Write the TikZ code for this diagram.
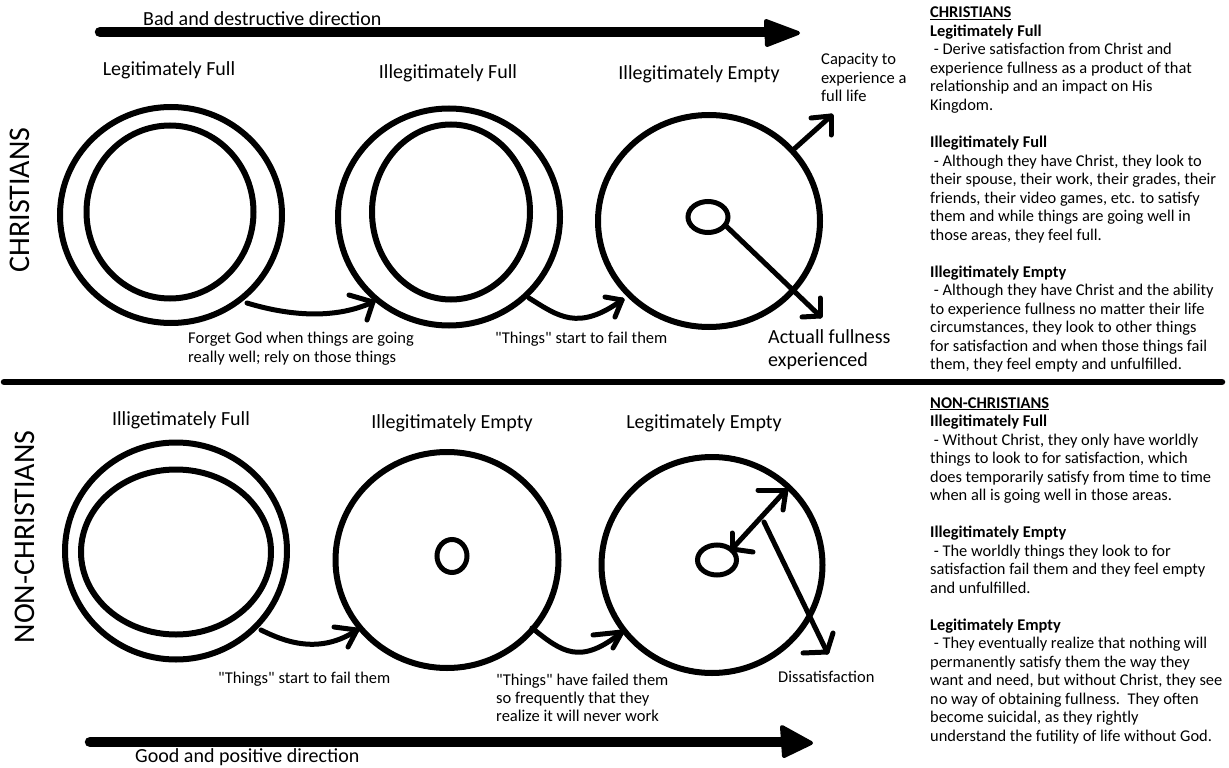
\documentclass[tikz,border=0pt]{standalone}
\usepackage{fontspec}
\setmainfont{Carlito}[Ligatures=TeXOff]
\usetikzlibrary{shapes.geometric}
\begin{document}
\begin{tikzpicture}[x=1pt,y=-1pt,
  ring/.style={draw, ellipse, line width=6pt, inner sep=0pt, outer sep=0pt},
  dot/.style={draw, ellipse, line width=5pt, inner sep=0pt, outer sep=0pt},
  shaft/.style={line width=5pt, line cap=round, line join=round},
  bigshaft/.style={line width=10.5pt, line cap=round},
  bighead/.style={fill=black, draw=black, line width=4pt, line join=round},
  title/.style={font=\fontsize{20}{24}\selectfont, anchor=base, inner sep=0pt},
  lbl/.style={font=\fontsize{16.5}{19}\selectfont, anchor=base west, inner sep=0pt},
  biglbl/.style={font=\fontsize{20}{24}\selectfont, anchor=base west, inner sep=0pt},
  rt/.style={font=\fontsize{16.4}{18.5}\selectfont, anchor=base west, inner sep=0pt},
  side/.style={font=\fontsize{30}{36}\selectfont, rotate=90, inner sep=0pt}]
\useasboundingbox (0,0) rectangle (1229,768);
\fill[white] (0,0) rectangle (1229,768);

% ---------- direction arrows ----------
\node[title, anchor=base west] (bad) at (143,26) {Bad and destructive direction};
\coordinate (ta0) at (100,32);
\coordinate (ta1) at (778,32);
\draw[bigshaft] (ta0) -- (ta1);
\filldraw[bighead] (798,33) -- (766,21) -- (767,45) -- cycle;

\node[title, anchor=base west] (good) at (135,762) {Good and positive direction};
\coordinate (ba0) at (90,742);
\coordinate (ba1) at (790,742);
\draw[bigshaft] (ba0) -- (ba1);
\filldraw[bighead] (811,743) -- (782,727) -- (784,756) -- cycle;

% ---------- divider ----------
\coordinate (dv0) at (4,382);
\coordinate (dv1) at (1222,382);
\draw[line width=6.5pt, line cap=round] (dv0) -- (dv1);

% ---------- side labels ----------
\node[side] (chr) at (20,200) {CHRISTIANS};
\node[side] (nonchr) at (25,537) {NON-CHRISTIANS};

% ---------- top row ----------
\node[title] (t1) at (169,76) {Legitimately Full};
\node[title] (t2) at (448,78) {Illegitimately Full};
\node[title] (t3) at (699,79) {Illegitimately Empty};

\node[ring, minimum width=222pt, minimum height=216pt] (c1o) at (171,215) {};
\node[ring, minimum width=167pt, minimum height=173pt] (c1i) at (170,212) {};
\node[ring, minimum width=222pt, minimum height=217pt] (c2o) at (449,217) {};
\node[ring, minimum width=158pt, minimum height=175pt] (c2i) at (451,212) {};
\node[ring, minimum width=222pt, minimum height=212pt] (c3o) at (709,221) {};
\node[dot, minimum width=40pt, minimum height=31pt] (c3d) at (708,217) {};

% arrow c1 -> c2
\coordinate (a1s) at (247,303);
\coordinate (a1t) at (373,302);
\draw[shaft] (a1s) .. controls (280,313) and (330,322) .. (a1t);
\draw[shaft] (a1t) -- (349,295);
\draw[shaft] (a1t) -- (367,320);
% arrow c2 -> c3
\coordinate (a2s) at (529,298);
\coordinate (a2t) at (622,300);
\draw[shaft] (a2s) .. controls (558,316) and (578,332) .. (a2t);
\draw[shaft] (a2t) -- (605,297);
\draw[shaft] (a2t) -- (615,317);
% capacity arrow
\coordinate (a3s) at (793,150);
\coordinate (a3t) at (831,116);
\draw[shaft] (a3s) -- (a3t);
\draw[shaft] (a3t) -- (811,118);
\draw[shaft] (a3t) -- (831,135);
% actual fullness arrow
\coordinate (a4s) at (725,225);
\coordinate (a4t) at (820,316);
\draw[shaft] (a4s) -- (a4t);
\draw[shaft] (a4t) -- (802,317);
\draw[shaft] (a4t) -- (820,298);

\node[lbl] (cap1) at (821,65) {Capacity to};
\node[lbl] (cap2) at (821,84) {experience a};
\node[lbl] (cap3) at (821,102) {full life};
\node[biglbl] (act1) at (768,343) {Actuall fullness};
\node[biglbl] (act2) at (768,366) {experienced};
\node[lbl] (fg1) at (188,343) {Forget God when things are going};
\node[lbl] (fg2) at (188,362) {really well; rely on those things};
\node[lbl] (th1) at (495,343) {"Things" start to fail them};

% ---------- bottom row ----------
\node[title] (b1) at (181,425) {Illigetimately Full};
\node[title] (b2) at (452,428) {Illegitimately Empty};
\node[title] (b3) at (704,428) {Legitimately Empty};

\node[ring, minimum width=222pt, minimum height=217pt] (d1o) at (176,551) {};
\node[ring, minimum width=190pt, minimum height=165pt] (d1i) at (176,552) {};
\node[ring, minimum width=223pt, minimum height=216pt] (d2o) at (447,560) {};
\node[dot, minimum width=30pt, minimum height=33pt] (d2d) at (452,556) {};
\node[ring, minimum width=221pt, minimum height=216pt] (d3o) at (712,565) {};
\node[dot, minimum width=39pt, minimum height=30pt] (d3d) at (717,560) {};

% arrow d1 -> d2
\coordinate (b1s) at (261,630);
\coordinate (b1t) at (357,630);
\draw[shaft] (b1s) .. controls (285,642) and (320,655) .. (b1t);
\draw[shaft] (b1t) -- (334,627);
\draw[shaft] (b1t) -- (348,647);
% arrow d2 -> d3
\coordinate (b2s) at (532,628);
\coordinate (b2t) at (622,632);
\draw[shaft] (b2s) .. controls (562,652) and (580,666) .. (b2t);
\draw[shaft] (b2t) -- (593,635);
\draw[shaft] (b2t) -- (613,648);
% double arrow
\coordinate (b3s) at (732,549);
\coordinate (b3t) at (786,490);
\draw[shaft] (b3s) -- (b3t);
\draw[shaft] (b3t) -- (758,490);
\draw[shaft] (b3t) -- (783,510);
\draw[shaft] (b3s) -- (732,533);
\draw[shaft] (b3s) -- (753,552);
% dissatisfaction arrow
\coordinate (b4s) at (764,522);
\coordinate (b4t) at (827,652);
\draw[shaft] (b4s) -- (b4t);
\draw[shaft] (b4t) -- (803,653);
\draw[shaft] (b4t) -- (833,633);

\node[lbl] (bth1) at (218,683) {"Things" start to fail them};
\node[lbl] (hf1) at (496,685) {"Things" have failed them};
\node[lbl] (hf2) at (496,703) {so frequently that they};
\node[lbl] (hf3) at (496,721) {realize it will never work};
\node[lbl] (dis) at (778,682) {Dissatisfaction};

% ---------- right column ----------
\foreach \y/\t [count=\i] in {
  18/{\textbf{\underline{CHRISTIANS}}},
  36.5/{\textbf{Legitimately Full}},
  55/{\ - Derive satisfaction from Christ and},
  73.5/{experience fullness as a product of that},
  92/{relationship and an impact on His},
  110.5/{Kingdom.},
  147.5/{\textbf{Illegitimately Full}},
  166/{\ - Although they have Christ, they look to},
  184.5/{their spouse, their work, their grades, their},
  203/{friends, their video games, etc. to satisfy},
  221.5/{them and while things are going well in},
  240/{those areas, they feel full.},
  277/{\textbf{Illegitimately Empty}},
  295.5/{\ - Although they have Christ and the ability},
  314/{to experience fullness no matter their life},
  332.5/{circumstances, they look to other things},
  351/{for satisfaction and when those things fail},
  369.5/{them, they feel empty and unfulfilled.}}
  \node[rt] (rc\i) at (930,\y) {\t};

\foreach \y/\t [count=\i] in {
  408/{\textbf{\underline{NON-CHRISTIANS}}},
  426.5/{\textbf{Illegitimately Full}},
  445/{\ - Without Christ, they only have worldly},
  463.5/{things to look to for satisfaction, which},
  482/{does temporarily satisfy from time to time},
  500.5/{when all is going well in those areas.},
  537.5/{\textbf{Illegitimately Empty}},
  556/{\ - The worldly things they look to for},
  574.5/{satisfaction fail them and they feel empty},
  593/{and unfulfilled.},
  630/{\textbf{Legitimately Empty}},
  648.5/{\ - They eventually realize that nothing will},
  667/{permanently satisfy them the way they},
  685.5/{want and need, but without Christ, they see},
  704/{no way of obtaining fullness.\ \ They often},
  722.5/{become suicidal, as they rightly},
  741/{understand the futility of life without God.}}
  \node[rt] (rn\i) at (930,\y) {\t};
\end{tikzpicture}
\end{document}
